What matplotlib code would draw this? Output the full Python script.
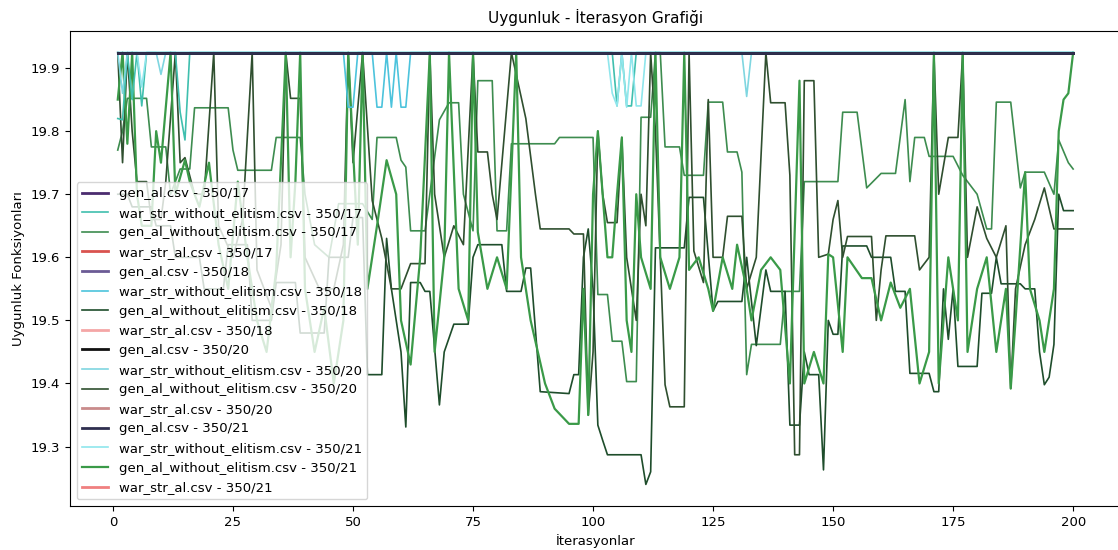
import matplotlib
matplotlib.use("Agg")
import matplotlib.pyplot as plt

# Run names and configurations (legend order)
files = ['gen_al.csv', 'war_str_without_elitism.csv',
         'gen_al_without_elitism.csv', 'war_str_al.csv']
configs = ['350/17', '350/18', '350/20', '350/21']

# gen_al and war_str_al stay at the best fitness the whole run
flat_x = [1, 200]
flat_y = [19.9245, 19.9245]

# war_str_without_elitism: mostly at the top with a few short dips
ws17_x = [1, 2, 3, 4, 5, 6, 7, 13, 14, 15, 16, 104, 105, 106, 107, 108, 109, 200]
ws17_y = [19.82, 19.818, 19.9245, 19.85, 19.9245, 19.84, 19.9245, 19.9245, 19.83, 19.786,
          19.9245, 19.9245, 19.84, 19.9245, 19.84, 19.84, 19.9245, 19.9245]
ws18_x = [1, 48, 49, 50, 51, 54, 55, 56, 57, 58, 59, 60, 61, 62, 63, 200]
ws18_y = [19.9245, 19.9245, 19.838, 19.838, 19.9245, 19.9245, 19.838, 19.838, 19.9245,
          19.838, 19.9245, 19.838, 19.838, 19.9245, 19.9245, 19.9245]
ws20_x = [1, 2, 3, 9, 10, 11, 131, 132, 133, 134, 200]
ws20_y = [19.9245, 19.86, 19.9245, 19.9245, 19.89, 19.9245, 19.9245, 19.855, 19.9245,
          19.9245, 19.9245]
ws21_x = [1, 5, 6, 7, 8, 103, 104, 105, 106, 107, 108, 109, 110, 111, 200]
ws21_y = [19.9245, 19.9245, 19.87, 19.9245, 19.9245, 19.9245, 19.86, 19.84, 19.9245,
          19.838, 19.9245, 19.84, 19.84, 19.9245, 19.9245]

# gen_al_without_elitism 350/17
ga17_x = [1, 2, 3, 7, 8, 11, 12, 14, 16, 17, 24, 25, 26, 33, 34, 39, 40, 42, 45, 47, 52,
          54, 55, 59, 60, 61, 62, 65, 66, 68, 70, 72, 73, 75, 76, 79, 80, 82, 83, 92, 93,
          100, 101, 103, 104, 106, 107, 109, 110, 112, 113, 114, 115, 118, 119, 123, 124,
          127, 128, 130, 131, 132, 133, 139, 140, 143, 144, 151, 152, 155, 157, 160, 163,
          165, 166, 167, 169, 170, 175, 177, 180, 182, 183, 184, 187, 189, 190, 194, 196,
          197, 199, 200]
ga17_y = [19.77, 19.80, 19.852, 19.852, 19.775, 19.775, 19.70, 19.74, 19.74, 19.837,
          19.837, 19.77, 19.738, 19.738, 19.79, 19.79, 19.70, 19.62, 19.60, 19.685, 19.685,
          19.66, 19.79, 19.79, 19.754, 19.743, 19.642, 19.642, 19.70, 19.818, 19.845,
          19.845, 19.70, 19.642, 19.88, 19.88, 19.642, 19.642, 19.78, 19.78, 19.79, 19.79,
          19.541, 19.541, 19.467, 19.467, 19.403, 19.403, 19.822, 19.822, 19.9245, 19.9245,
          19.775, 19.775, 19.73, 19.73, 19.846, 19.846, 19.767, 19.767, 19.735, 19.414,
          19.462, 19.462, 19.546, 19.546, 19.72, 19.72, 19.83, 19.83, 19.71, 19.733, 19.733,
          19.85, 19.72, 19.79, 19.79, 19.76, 19.76, 19.73, 19.70, 19.645, 19.645, 19.846,
          19.846, 19.71, 19.735, 19.735, 19.70, 19.786, 19.75, 19.74]

# gen_al_without_elitism 350/18
ga18_x = [1, 3, 4, 8, 9, 12, 13, 18, 19, 23, 24, 28, 29, 33, 34, 38, 39, 44, 45, 49, 50,
          52, 53, 56, 57, 58, 60, 61, 62, 64, 65, 66, 68, 69, 71, 74, 75, 76, 81, 82, 85,
          86, 87, 89, 95, 96, 97, 98, 99, 100, 101, 102, 103, 110, 111, 112, 113, 119, 120,
          123, 125, 126, 131, 132, 134, 136, 137, 140, 141, 143, 144, 145, 147, 148, 149,
          150, 151, 152, 157, 158, 162, 163, 165, 166, 170, 171, 172, 173, 174, 175, 176,
          180, 181, 183, 184, 185, 189, 190, 192, 193, 194, 195, 196, 197, 198, 200]
ga18_y = [19.70, 19.70, 19.68, 19.68, 19.65, 19.65, 19.60, 19.60, 19.55, 19.55, 19.62,
          19.62, 19.50, 19.50, 19.56, 19.56, 19.48, 19.48, 19.60, 19.60, 19.663, 19.663,
          19.414, 19.414, 19.63, 19.55, 19.45, 19.331, 19.56, 19.56, 19.546, 19.546, 19.366,
          19.45, 19.494, 19.494, 19.60, 19.62, 19.62, 19.546, 19.546, 19.583, 19.583, 19.387,
          19.384, 19.414, 19.414, 19.60, 19.645, 19.55, 19.334, 19.31, 19.287, 19.287, 19.24,
          19.26, 19.615, 19.615, 19.695, 19.695, 19.515, 19.53, 19.53, 19.60, 19.46, 19.58,
          19.546, 19.546, 19.334, 19.334, 19.45, 19.414, 19.414, 19.263, 19.50, 19.478,
          19.478, 19.618, 19.618, 19.60, 19.60, 19.546, 19.546, 19.416, 19.416, 19.387,
          19.387, 19.55, 19.47, 19.55, 19.427, 19.427, 19.543, 19.543, 19.60, 19.558, 19.558,
          19.55, 19.55, 19.45, 19.398, 19.41, 19.462, 19.70, 19.674, 19.674]

# gen_al_without_elitism 350/20
ga20_x = [1, 2, 3, 4, 5, 7, 8, 10, 11, 13, 14, 15, 17, 19, 21, 22, 25, 27, 29, 30, 33,
          35, 36, 37, 39, 40, 43, 46, 48, 49, 50, 52, 54, 56, 58, 60, 62, 65, 66, 67, 69,
          71, 73, 75, 76, 78, 79, 80, 83, 85, 86, 88, 89, 95, 96, 98, 99, 100, 101, 102,
          103, 105, 106, 107, 109, 110, 111, 112, 113, 114, 115, 116, 119, 120, 121, 123,
          124, 125, 127, 128, 131, 132, 134, 136, 137, 140, 141, 142, 143, 144, 146, 147,
          149, 150, 151, 152, 153, 158, 159, 160, 161, 167, 168, 170, 171, 172, 174, 176,
          177, 178, 180, 182, 184, 186, 187, 188, 190, 192, 194, 196, 200]
ga20_y = [19.9245, 19.75, 19.9245, 19.80, 19.72, 19.72, 19.66, 19.66, 19.72, 19.9245,
          19.75, 19.758, 19.70, 19.70, 19.9245, 19.65, 19.60, 19.66, 19.9245, 19.58, 19.52,
          19.62, 19.9245, 19.852, 19.852, 19.60, 19.55, 19.55, 19.62, 19.9245, 19.75,
          19.9245, 19.69, 19.63, 19.55, 19.55, 19.59, 19.59, 19.9245, 19.70, 19.60, 19.65,
          19.62, 19.9245, 19.767, 19.767, 19.70, 19.66, 19.9245, 19.855, 19.82, 19.70,
          19.645, 19.645, 19.637, 19.637, 19.35, 19.45, 19.80, 19.70, 19.655, 19.655, 19.79,
          19.60, 19.50, 19.70, 19.65, 19.9245, 19.80, 19.60, 19.398, 19.363, 19.363, 19.9245,
          19.61, 19.56, 19.85, 19.60, 19.60, 19.665, 19.665, 19.55, 19.60, 19.9245, 19.845,
          19.845, 19.73, 19.287, 19.287, 19.88, 19.88, 19.60, 19.605, 19.66, 19.69, 19.60,
          19.633, 19.633, 19.50, 19.58, 19.634, 19.634, 19.58, 19.60, 19.9245, 19.70, 19.79,
          19.79, 19.9245, 19.60, 19.68, 19.63, 19.60, 19.65, 19.392, 19.55, 19.62, 19.66,
          19.71, 19.645, 19.645]

# gen_al_without_elitism 350/21
ga21_x = [1, 2, 3, 4, 5, 6, 8, 9, 10, 12, 13, 15, 16, 18, 20, 22, 24, 26, 28, 30, 32,
          34, 36, 37, 38, 39, 40, 42, 44, 46, 48, 49, 51, 52, 53, 55, 57, 59, 60, 62, 64,
          66, 67, 69, 70, 72, 74, 75, 76, 78, 80, 82, 84, 85, 87, 90, 92, 95, 97, 98, 99,
          100, 101, 103, 104, 105, 106, 107, 108, 109, 110, 112, 113, 114, 116, 118, 119,
          120, 122, 124, 125, 127, 129, 130, 132, 133, 135, 137, 139, 141, 143, 144, 146,
          148, 149, 150, 152, 153, 156, 158, 160, 162, 164, 166, 168, 170, 171, 172, 174,
          176, 177, 178, 180, 182, 184, 186, 187, 188, 190, 191, 193, 194, 196, 197, 198,
          199, 200]
ga21_y = [19.85, 19.9245, 19.78, 19.9245, 19.70, 19.65, 19.65, 19.80, 19.75, 19.9245,
          19.70, 19.754, 19.72, 19.68, 19.75, 19.62, 19.55, 19.72, 19.60, 19.50, 19.45,
          19.58, 19.9245, 19.60, 19.72, 19.9245, 19.55, 19.45, 19.52, 19.40, 19.50, 19.9245,
          19.62, 19.9245, 19.55, 19.65, 19.754, 19.70, 19.50, 19.43, 19.60, 19.9245, 19.45,
          19.60, 19.9245, 19.55, 19.50, 19.9245, 19.64, 19.55, 19.60, 19.55, 19.9245, 19.60,
          19.50, 19.40, 19.36, 19.336, 19.336, 19.55, 19.35, 19.70, 19.80, 19.60, 19.60,
          19.70, 19.79, 19.50, 19.45, 19.70, 19.60, 19.55, 19.9245, 19.60, 19.55, 19.60,
          19.9245, 19.58, 19.60, 19.55, 19.515, 19.60, 19.55, 19.62, 19.55, 19.50, 19.58,
          19.60, 19.58, 19.40, 19.88, 19.40, 19.45, 19.40, 19.605, 19.60, 19.45, 19.60,
          19.567, 19.567, 19.50, 19.56, 19.52, 19.55, 19.40, 19.45, 19.9245, 19.40, 19.60,
          19.50, 19.9245, 19.45, 19.55, 19.60, 19.45, 19.55, 19.392, 19.50, 19.735, 19.55,
          19.50, 19.45, 19.55, 19.80, 19.85, 19.86, 19.9245]

series = {
    'gen_al.csv': [(flat_x, flat_y)] * 4,
    'war_str_without_elitism.csv': [(ws17_x, ws17_y), (ws18_x, ws18_y),
                                    (ws20_x, ws20_y), (ws21_x, ws21_y)],
    'gen_al_without_elitism.csv': [(ga17_x, ga17_y), (ga18_x, ga18_y),
                                   (ga20_x, ga20_y), (ga21_x, ga21_y)],
    'war_str_al.csv': [(flat_x, flat_y)] * 4,
}

colors = {
    'gen_al.csv': ['#4b2c6f', '#6b5b95', '#111111', '#2f2f4f'],
    'war_str_without_elitism.csv': ['#3fbfae', '#4cc3dc', '#7fd6e0', '#8fe6ec'],
    'gen_al_without_elitism.csv': ['#3d8c4f', '#1e4d2b', '#2f4f2f', '#3a9a48'],
    'war_str_al.csv': ['#d9534f', '#f4a6a6', '#c98b8b', '#f08080'],
}
zorders = {'gen_al.csv': 2.5, 'war_str_without_elitism.csv': 2.2,
           'gen_al_without_elitism.csv': 2.1, 'war_str_al.csv': 2.0}

plt.rcParams['font.size'] = 9.5

fig = plt.figure(figsize=(11.18, 5.5), dpi=100)
ax = fig.add_axes([0.0626, 0.08, 0.940, 0.8636])

for i, cfg in enumerate(configs):
    for name in files:
        xs, ys = series[name][i]
        if name == 'gen_al_without_elitism.csv' and cfg == '350/21':
            lw = 1.6
        elif name in ('gen_al.csv', 'war_str_al.csv'):
            lw = 2.0
        else:
            lw = 1.2
        ax.plot(xs, ys, color=colors[name][i], linewidth=lw,
                label=f'{name} - {cfg}', zorder=zorders[name])

ax.set_title('Uygunluk - İterasyon Grafiği', fontsize=11)
ax.set_xlabel('İterasyonlar')
ax.set_ylabel('Uygunluk Fonksiyonları')
ax.legend(loc='lower left')

plt.savefig('out.png', dpi=100)
